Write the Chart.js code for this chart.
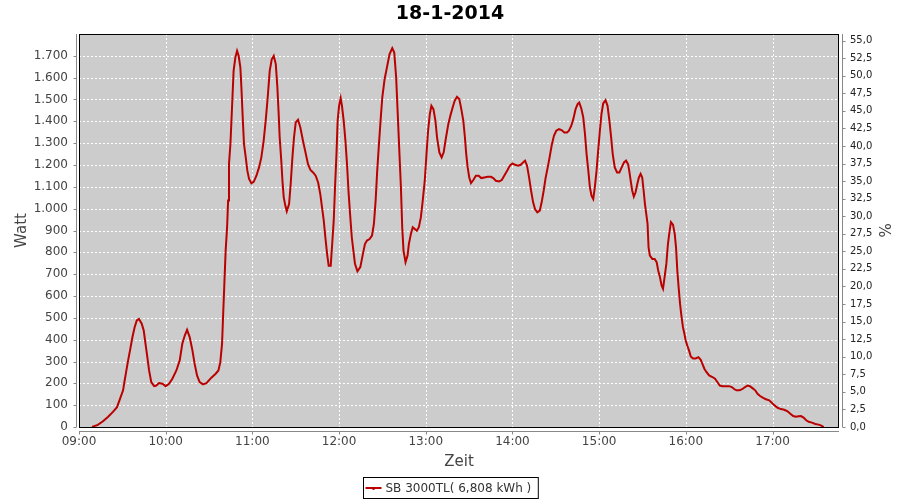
<!DOCTYPE html>
<html>
<head>
<meta charset="utf-8">
<script src="https://cdn.jsdelivr.net/npm/chart.js@4/dist/chart.umd.min.js"></script>
<style>
  html, body { margin: 0; padding: 0; background: #fff; }
  #wrap { width: 900px; height: 500px; }
</style>
</head>
<body>
<div id="wrap"><canvas id="c" width="900" height="500"></canvas></div>
<script>
// ---- data (minutes after 09:00, Watt) ----
const chartTitle = '18-1-2014';
const seriesName = 'SB 3000TL( 6,808 kWh )';
const xTitle = 'Zeit';
const yTitle = 'Watt';
const y2Title = '%';
const startHour = 9;
const minutes = [
  9,13,16.6,20,23.5,26.3,28,30.5,31.6,32.8,34,35.5,37,38.5,40,41.5,43.4,44.8,46.2,47.3,48.5,50,52,53.5,55.4,57.7,
  60,62.3,64.6,67.4,69.7,71.5,73.2,74.8,76.6,78.5,80,81.7,83.5,85.8,88.2,91.6,94.6,96.5,97.8,99,99.7,100.6,101.5,
  102.5,103.2,103.8,104.8,105.5,106.2,107,108.2,109.4,110.5,111.7,112.4,113.3,114.2,115.4,116.5,117.7,119.3,120.9,
  122.8,124.6,126.2,127.8,129.2,130.6,132,133.4,134.8,136.2,137.3,138.2,138.9,140,140.8,141.7,142.8,143.8,145.4,
  146.5,147.7,148.8,150,151.6,153.2,155,157,158.5,160.2,162,163.8,165.5,167,168.2,169.4,170.5,171.7,172.8,174.2,
  175.4,176.3,177.2,178.2,179,180,181.1,182,183.2,184.4,185.5,186.5,187.6,188.8,189.9,191,192.7,
  194.7,196.5,197.9,199.3,201.1,202.8,204.1,205.3,206.4,207.6,208.7,209.9,211.5,213.1,214.9,216.8,218.2,219.5,
  220.7,221.8,222.8,223.7,224.6,226,227.4,228.3,229.7,231,232.4,233.8,235.2,236.6,237.9,239.3,240.5,241.6,242.8,
  243.9,245.3,246.7,247.8,249.4,251,252.4,254,255.6,257,258.6,260,261.6,263.2,264.6,266,267.1,268,269,270.1,271.3,
  272.9,274.7,276.6,278.4,280.5,282.8,285.1,286.7,288.5,290.8,292.6,294.7,296.6,298.2,300,301.8,303.9,305.7,307.4,
  308.7,310.1,311.5,312.9,314.3,315.6,317.2,318.9,320.2,321.6,323,324.4,325.7,327.1,328.7,330.3,332.2,334,335.9,
  337.7,339.1,340.7,342.1,343.7,345.1,346.2,347.6,349,350.2,351.3,352.5,353.6,354.7,355.9,357,358.2,359.3,360.5,
  361.6,362.8,364.4,365.8,367.1,368.3,369.4,370.8,372.4,374,375.6,377.2,378.6,380,
  380.8,382,382.9,384,385.2,386.4,387.5,388.7,389.8,390.8,391.7,392.6,393.5,394.2,395.1,396.8,398.4,399.8,400.9,
  402.1,403.2,404.2,405.3,406.5,407.6,408.8,409.7,411.1,412.3,413.2,414.1,415,416,416.9,418,419,419.9,421,422.2,
  423.4,425,426.8,428.7,430.3,431.4,432.8,434.2,436.1,438.4,440.2,441.8,443.5,445.3,447.6,449.9,451.8,453.4,455,
  457.3,459.2,461,462.7,464.3,466.1,468,469.6,471.4,473.5,475.4,477.7,479.5,481.4,483.5,485.8,488.1,490.4,492.3,
  494.3,496.2,498,499.7,501.5,503.1,505,507.3,509.6,511.9,513.8,515.4
];
const watt = [
  0,10,26,46,69,91,122,168,213,259,305,358,412,457,488,495,473,442,373,320,259,206,187,190,201,198,
  187,198,221,259,305,381,419,445,412,351,290,236,206,195,201,226,244,259,297,381,503,655,808,
  915,1037,1204,1296,1402,1509,1631,1692,1723,1700,1646,1555,1418,1296,1235,1174,1136,1116,1123,
  1151,1189,1235,1311,1402,1509,1631,1684,1700,1662,1555,1433,1326,1220,1128,1052,1014,988,1021,
  1113,1235,1326,1395,1407,1372,1311,1250,1204,1177,1166,1151,1120,1067,1006,945,869,793,739,739,
  854,945,1098,1250,1402,1471,1506,1471,1402,1311,1204,1082,976,869,808,747,713,
  732,793,838,854,861,877,930,1037,1174,1296,1402,1509,1593,1646,1707,1735,1715,1601,
  1418,1250,1098,915,808,755,785,838,884,915,907,899,915,960,1037,1128,1250,1357,1433,
  1471,1456,1402,1326,1258,1235,1258,1326,1387,1425,1463,1494,1512,1502,1456,1402,1326,1250,1189,1143,1117,
  1131,1151,1151,1140,1143,1146,1146,1140,1128,1125,1131,1155,1177,1197,1207,1201,1197,1201,1212,
  1220,1197,1143,1082,1029,998,983,991,1029,1082,1143,1189,1235,1288,1334,1357,1364,1360,1349,
  1349,1357,1380,1410,1456,1479,1486,1460,1418,1341,1250,1174,1098,1059,1044,1098,1174,1265,1357,
  1433,1482,1497,1471,1402,1326,1250,1189,1166,1166,1189,1212,1220,1204,
  1174,1120,1082,1055,1075,1113,1143,1159,1143,1082,1021,976,930,823,785,770,770,755,716,
  686,648,633,686,747,838,899,938,927,884,823,716,640,564,511,457,427,396,373,351,
  323,314,314,320,308,290,267,252,236,229,221,206,190,187,187,187,183,174,168,
  168,174,183,190,187,178,168,152,142,133,127,122,111,99,88,82,79,72,61,
  50,47,49,50,43,32,24,20,14,11,6,0
];
const xTickMinutes = [0, 60, 120, 180, 240, 300, 360, 420, 480];
const wattTicks = [0,100,200,300,400,500,600,700,800,900,1000,1100,1200,1300,1400,1500,1600,1700];
const pctTicks = [0,2.5,5,7.5,10,12.5,15,17.5,20,22.5,25,27.5,30,32.5,35,37.5,40,42.5,45,47.5,50,52.5,55];
const xMinMinutes = 0;
const xMaxMinutes = 526;
const yMaxWatt = 1800;
const pctMax = 55.93;

const lineColor = '#bb0000';
const fontFam = "'DejaVu Sans', 'Liberation Sans', sans-serif";

function fmtTime(m) {
  const total = startHour * 60 + m;
  const h = Math.floor(total / 60), mm = Math.round(total % 60);
  return String(h).padStart(2, '0') + ':' + String(mm).padStart(2, '0');
}
function fmtWatt(v) {
  return String(v).replace(/\B(?=(\d{3})+(?!\d))/g, '.');
}
function fmtPct(v) {
  return v.toFixed(1).replace('.', ',');
}

const chromePlugin = {
  id: 'chrome',
  beforeDraw(chart) {
    const {ctx, chartArea: a} = chart;
    ctx.save();
    ctx.fillStyle = '#cccccc';
    ctx.fillRect(a.left, a.top, a.right - a.left, a.bottom - a.top);
    ctx.restore();
  },
  beforeDatasetsDraw(chart) {
    const {ctx, chartArea: a, scales} = chart;
    ctx.save();
    // dashed white gridlines
    ctx.strokeStyle = '#ffffff';
    ctx.lineWidth = 1;
    ctx.setLineDash([2, 2]);
    ctx.beginPath();
    scales.y.ticks.forEach(t => {
      const py = Math.round(scales.y.getPixelForValue(t.value)) + 0.5;
      ctx.moveTo(a.left, py); ctx.lineTo(a.right, py);
    });
    scales.x.ticks.forEach(t => {
      const px = Math.round(scales.x.getPixelForValue(t.value)) + 0.5;
      ctx.moveTo(px, a.top); ctx.lineTo(px, a.bottom);
    });
    ctx.stroke();
    ctx.setLineDash([]);
    ctx.strokeStyle = '#000';
    ctx.strokeRect(a.left + 0.5, a.top + 0.5, a.right - a.left - 1, a.bottom - a.top);
    ctx.restore();
  },
  afterDraw(chart) {
    const {ctx, chartArea: a, scales} = chart;
    ctx.save();
    ctx.strokeStyle = '#888888';
    ctx.lineWidth = 1;
    // left axis
    const lx = a.left - 2.5;
    ctx.beginPath();
    ctx.moveTo(lx, a.top); ctx.lineTo(lx, a.bottom);
    scales.y.ticks.forEach(t => {
      const py = Math.round(scales.y.getPixelForValue(t.value)) + 0.5;
      ctx.moveTo(lx, py); ctx.lineTo(lx - 3, py);
    });
    // bottom axis
    const by = a.bottom + 4.5;
    ctx.moveTo(a.left, by); ctx.lineTo(a.right, by);
    scales.x.ticks.forEach(t => {
      const px = Math.round(scales.x.getPixelForValue(t.value)) + 0.5;
      ctx.moveTo(px, by); ctx.lineTo(px, by + 3);
    });
    // right axis
    const rx = a.right + 3.5;
    ctx.moveTo(rx, a.top); ctx.lineTo(rx, a.bottom);
    scales.y1.ticks.forEach(t => {
      const py = Math.round(scales.y1.getPixelForValue(t.value)) + 0.5;
      ctx.moveTo(rx, py); ctx.lineTo(rx + 3, py);
    });
    ctx.stroke();

    // legend box
    ctx.font = '12px ' + fontFam;
    const tw = ctx.measureText(seriesName).width;
    const bx = 363.5, byy = 477.5, bh = 21;
    const bw = 22 + tw + 7;
    ctx.strokeStyle = '#000';
    ctx.strokeRect(bx, byy, bw, bh);
    ctx.strokeStyle = lineColor;
    ctx.lineWidth = 2;
    ctx.beginPath();
    ctx.moveTo(bx + 2, 488); ctx.lineTo(bx + 18, 488);
    ctx.stroke();
    ctx.fillStyle = lineColor;
    ctx.fillRect(bx + 9, 488, 2, 2);
    ctx.fillStyle = '#333';
    ctx.textBaseline = 'middle';
    ctx.textAlign = 'left';
    ctx.fillText(seriesName, bx + 22, 488.5);
    ctx.restore();
  }
};

Chart.defaults.font.family = fontFam;

new Chart(document.getElementById('c'), {
  type: 'line',
  data: {
    datasets: [{
      label: seriesName,
      data: minutes.map((m, i) => ({x: m, y: watt[i]})),
      borderColor: lineColor,
      backgroundColor: lineColor,
      borderWidth: 2,
      pointRadius: 0,
      tension: 0,
      fill: false,
      yAxisID: 'y',
      xAxisID: 'x'
    }]
  },
  options: {
    responsive: false,
    animation: false,
    events: [],
    layout: { padding: 0 },
    plugins: {
      legend: { display: false },
      tooltip: { enabled: false },
      title: {
        display: true,
        text: chartTitle,
        color: '#000',
        font: { size: 19, weight: 'bold', family: fontFam },
        padding: { top: 3, bottom: 8.2 }
      }
    },
    scales: {
      x: {
        type: 'linear',
        position: 'bottom',
        min: xMinMinutes,
        max: xMaxMinutes,
        afterFit(s) { s.height = 73; },
        afterBuildTicks(s) { s.ticks = xTickMinutes.map(v => ({value: v})); },
        ticks: {
          autoSkip: false,
          maxRotation: 0,
          padding: 8,
          color: '#444',
          font: { size: 12 },
          callback: v => fmtTime(v)
        },
        grid: { display: false, drawTicks: false },
        border: { display: false },
        title: {
          display: true, text: xTitle, color: '#444',
          font: { size: 15 }, padding: { top: 0, bottom: 29 }
        }
      },
      y: {
        type: 'linear',
        position: 'left',
        min: 0,
        max: yMaxWatt,
        afterFit(s) { s.width = 79; },
        afterBuildTicks(s) { s.ticks = wattTicks.map(v => ({value: v})); },
        ticks: {
          autoSkip: false,
          padding: 11,
          color: '#444',
          font: { size: 12 },
          callback: v => fmtWatt(v)
        },
        grid: { display: false, drawTicks: false },
        border: { display: false },
        title: {
          display: true, text: yTitle, color: '#444',
          font: { size: 15 }, padding: { top: 13, bottom: 0 }
        }
      },
      y1: {
        type: 'linear',
        position: 'right',
        min: 0,
        max: pctMax,
        afterFit(s) { s.width = 61; },
        afterBuildTicks(s) { s.ticks = pctTicks.map(v => ({value: v})); },
        ticks: {
          autoSkip: false,
          padding: 11,
          color: '#222',
          font: { size: 10 },
          callback: v => fmtPct(v)
        },
        grid: { display: false, drawTicks: false },
        border: { display: false },
        title: {
          display: true, text: y2Title, color: '#444',
          font: { size: 15 }, padding: { top: 8, bottom: 0 }
        }
      }
    }
  },
  plugins: [chromePlugin]
});
</script>
</body>
</html>
